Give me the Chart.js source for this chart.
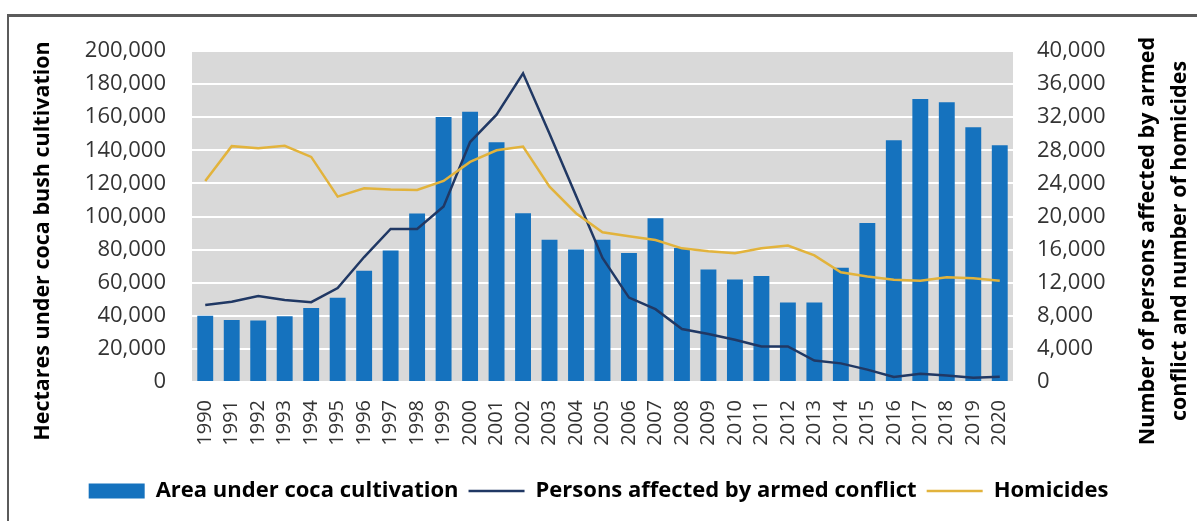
<!DOCTYPE html>
<html><head><meta charset="utf-8">
<script src="https://cdn.jsdelivr.net/npm/chart.js@4"></script>
<style>
html,body{margin:0;padding:0;background:#fff;}
#wrap{position:relative;width:1197px;height:521px;overflow:hidden;}
#frame{position:absolute;left:7px;top:14px;width:1300px;height:600px;border-left:2px solid #5b5b5b;border-top:3px solid #5b5b5b;}
canvas{position:absolute;left:0;top:0;}
</style></head><body>
<div id="wrap"><div id="frame"></div><canvas id="c" width="1197" height="521"></canvas></div>
<script>
const years = ['1990','1991','1992','1993','1994','1995','1996','1997','1998','1999','2000','2001','2002','2003','2004','2005','2006','2007','2008','2009','2010','2011','2012','2013','2014','2015','2016','2017','2018','2019','2020'];
const cocaArea = [40100,37500,37100,39700,44700,50900,67200,79400,101800,160100,163300,144800,102000,86000,80000,86000,78000,99000,81000,68000,62000,64000,48000,48000,69000,96000,146000,171000,169000,154000,143000];
const personsAffected = [9300,9700,10400,9900,9650,11350,15100,18500,18500,21200,29000,32300,37300,30000,22500,15000,10200,8800,6400,5800,5100,4300,4300,2600,2250,1500,600,1000,780,500,620];
const homicides = [24300,28500,28250,28550,27200,22400,23400,23250,23200,24300,26600,28000,28450,23600,20400,18100,17600,17150,16150,15800,15550,16150,16500,15300,13250,12750,12350,12250,12650,12550,12250];
const leftTitle = 'Hectares under coca bush cultivation';
const rightTitle = ['Number of persons affected by armed', 'conflict and number of homicides'];

const tickFont = {family: '"Open Sans", sans-serif', size: 22};
const fmt = v => Number(v).toLocaleString('en-US');

const bgPlugin = {
  id: 'bg',
  beforeDraw(chart) {
    const {ctx, chartArea: a} = chart;
    ctx.save();
    ctx.fillStyle = '#D9D9D9';
    ctx.fillRect(a.left, a.top, a.right - a.left, a.bottom - a.top);
    ctx.restore();
  },
  afterDraw(chart) {
    const ctx = chart.ctx;
    ctx.save();
    ctx.fillStyle = '#000';
    ctx.font = 'bold 21.5px "Open Sans", sans-serif';
    ctx.textAlign = 'center';
    ctx.textBaseline = 'middle';
    ctx.translate(43, 241);
    ctx.rotate(-Math.PI / 2);
    ctx.fillText(leftTitle, 0, 0);
    ctx.restore();
    ctx.save();
    ctx.fillStyle = '#000';
    ctx.font = 'bold 21.5px "Open Sans", sans-serif';
    ctx.textAlign = 'center';
    ctx.textBaseline = 'middle';
    ctx.translate(1148, 241);
    ctx.rotate(-Math.PI / 2);
    ctx.fillText(rightTitle[0], 0, 0);
    ctx.fillText(rightTitle[1], 0, 32);
    ctx.restore();
  }
};

new Chart(document.getElementById('c'), {
  type: 'bar',
  data: {
    labels: years,
    datasets: [
      {type: 'bar', label: 'Area under coca cultivation', data: cocaArea, yAxisID: 'y',
       backgroundColor: '#1572BE', borderWidth: 0, categoryPercentage: 1, barPercentage: 0.6,
       pointStyle: 'rect', order: 3},
      {type: 'line', label: 'Persons affected by armed conflict', data: personsAffected, yAxisID: 'y1',
       borderColor: '#203864', backgroundColor: '#203864', borderWidth: 2.5, pointRadius: 0, tension: 0,
       pointStyle: 'line', order: 2},
      {type: 'line', label: 'Homicides', data: homicides, yAxisID: 'y1',
       borderColor: '#E2B33C', backgroundColor: '#E2B33C', borderWidth: 2.5, pointRadius: 0, tension: 0,
       pointStyle: 'line', order: 1}
    ]
  },
  options: {
    responsive: false,
    animation: false,
    devicePixelRatio: 1,
    layout: {padding: {top: 51, left: 0, right: 0, bottom: 9}},
    plugins: {
      tooltip: {enabled: false},
      legend: {
        position: 'bottom',
        labels: {
          usePointStyle: true, pointStyleWidth: 56, boxHeight: 15, padding: 10,
          sort: (a, b) => a.datasetIndex - b.datasetIndex,
          color: '#000', font: {family: '"Open Sans", sans-serif', size: 22, weight: 'bold'}
        }
      }
    },
    scales: {
      x: {
        grid: {display: false},
        border: {display: false},
        ticks: {color: '#333', font: {family: '"Open Sans", sans-serif', size: 20}, minRotation: 90, maxRotation: 90, padding: 10, autoSkip: false},
        afterFit(s) { s.height = 88; }
      },
      y: {
        position: 'left', min: 0, max: 200000,
        grid: {color: '#FFFFFF', lineWidth: 2, drawTicks: false},
        border: {display: false},
        ticks: {stepSize: 20000, color: '#333', font: tickFont, padding: 26, callback: fmt},
        afterFit(s) { s.width = 192; }
      },
      y1: {
        position: 'right', min: 0, max: 40000,
        grid: {display: false, drawTicks: false},
        border: {display: false},
        ticks: {stepSize: 4000, color: '#333', font: tickFont, padding: 24, callback: fmt},
        afterFit(s) { s.width = 184; }
      }
    }
  },
  plugins: [bgPlugin]
});
</script>
</body></html>
